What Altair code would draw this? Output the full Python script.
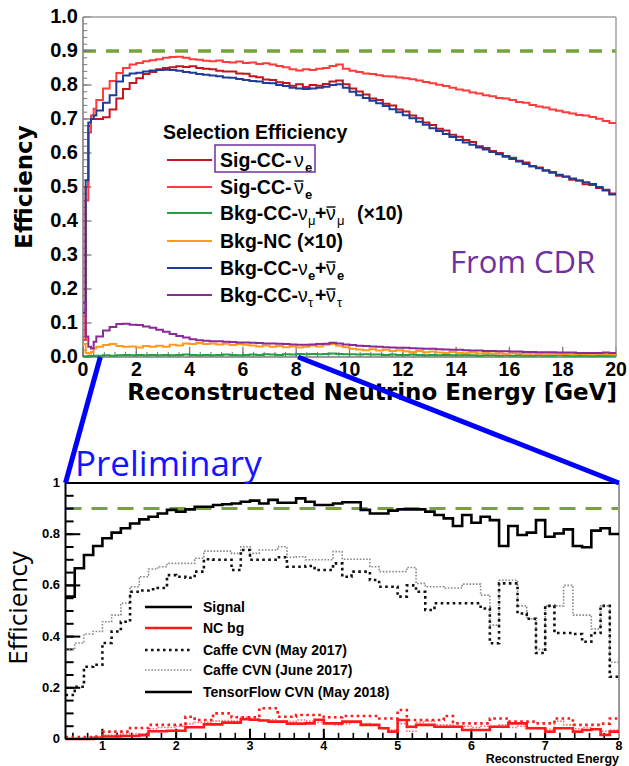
import altair as alt
import pandas as pd

W, H = 629, 766

# ---------------- top panel : selection efficiency (CDR) ----------------
top_edges_low = [0.0, 0.1, 0.2, 0.3, 0.4]          # fine bins at threshold
top_edges = top_edges_low + [round(0.5 + 0.25 * k, 3) for k in range(78)]
top_end = 20.0

sig_nue = [0.05, 0.50, 0.68, 0.70, 0.70,
    0.700, 0.705, 0.728, 0.760, 0.788, 0.806, 0.820, 0.832, 0.838, 0.846,
    0.850, 0.852, 0.855, 0.853, 0.855, 0.850, 0.848, 0.846, 0.842, 0.840,
    0.840, 0.834, 0.833, 0.826, 0.823, 0.816, 0.815, 0.808, 0.806, 0.798,
    0.802, 0.794, 0.800, 0.798, 0.803, 0.810, 0.813, 0.802, 0.790, 0.781,
    0.772, 0.760, 0.756, 0.745, 0.740, 0.728, 0.722, 0.710, 0.702, 0.690,
    0.682, 0.671, 0.666, 0.654, 0.648, 0.638, 0.632, 0.620, 0.615, 0.606,
    0.600, 0.591, 0.586, 0.577, 0.572, 0.560, 0.557, 0.548, 0.544, 0.533,
    0.531, 0.521, 0.519, 0.508, 0.506, 0.497, 0.492, 0.481]
sig_nuebar = [0.05, 0.46, 0.66, 0.71, 0.73,
    0.756, 0.790, 0.812, 0.835, 0.850, 0.860, 0.865, 0.870, 0.873, 0.876,
    0.880, 0.882, 0.883, 0.880, 0.876, 0.874, 0.871, 0.870, 0.872, 0.868,
    0.866, 0.869, 0.865, 0.866, 0.862, 0.864, 0.860, 0.856, 0.852, 0.846,
    0.843, 0.846, 0.844, 0.848, 0.850, 0.856, 0.860, 0.848, 0.842, 0.838,
    0.834, 0.832, 0.829, 0.826, 0.825, 0.822, 0.820, 0.817, 0.813, 0.809,
    0.805, 0.801, 0.797, 0.792, 0.787, 0.784, 0.778, 0.775, 0.770, 0.767,
    0.762, 0.760, 0.756, 0.750, 0.748, 0.741, 0.737, 0.734, 0.728, 0.724,
    0.720, 0.716, 0.712, 0.710, 0.706, 0.701, 0.694, 0.688]
bkg_numu_x10 = [0.002, 0.002, 0.003, 0.003, 0.004,
    0.004, 0.005, 0.004, 0.005, 0.006, 0.005, 0.006, 0.005, 0.006, 0.005,
    0.006, 0.005, 0.006, 0.007, 0.006, 0.005, 0.006, 0.005, 0.006, 0.007,
    0.006, 0.005, 0.006, 0.007, 0.006, 0.008, 0.007, 0.006, 0.008, 0.007,
    0.009, 0.008, 0.009, 0.008, 0.009, 0.010, 0.009, 0.008, 0.008, 0.007,
    0.008, 0.007, 0.007, 0.006, 0.007, 0.006, 0.006, 0.007, 0.006, 0.005,
    0.006, 0.005, 0.006, 0.005, 0.005, 0.006, 0.005, 0.004, 0.005, 0.005,
    0.004, 0.005, 0.004, 0.005, 0.004, 0.004, 0.005, 0.004, 0.004, 0.005,
    0.004, 0.003, 0.004, 0.004, 0.003, 0.004, 0.003, 0.004]
bkg_nc_x10 = [0.038, 0.012, 0.010, 0.015, 0.025,
    0.030, 0.035, 0.038, 0.032, 0.030, 0.031, 0.028, 0.032, 0.030, 0.033,
    0.030, 0.036, 0.034, 0.040, 0.038, 0.041, 0.038, 0.040, 0.037, 0.039,
    0.035, 0.038, 0.036, 0.034, 0.031, 0.034, 0.030, 0.032, 0.029, 0.031,
    0.028, 0.030, 0.034, 0.031, 0.036, 0.038, 0.033, 0.029, 0.024, 0.022,
    0.020, 0.023, 0.019, 0.021, 0.018, 0.020, 0.017, 0.015, 0.018, 0.014,
    0.016, 0.013, 0.012, 0.015, 0.012, 0.011, 0.013, 0.010, 0.012, 0.010,
    0.011, 0.009, 0.011, 0.010, 0.008, 0.010, 0.009, 0.008, 0.010, 0.008,
    0.009, 0.007, 0.009, 0.008, 0.007, 0.009, 0.008, 0.007]
bkg_nue = [0.13, 0.52, 0.69, 0.70, 0.71,
    0.725, 0.748, 0.770, 0.810, 0.828, 0.834, 0.836, 0.840, 0.843, 0.844,
    0.845, 0.844, 0.842, 0.838, 0.836, 0.832, 0.830, 0.828, 0.826, 0.822,
    0.821, 0.818, 0.815, 0.812, 0.810, 0.806, 0.805, 0.800, 0.797, 0.792,
    0.790, 0.788, 0.790, 0.792, 0.795, 0.800, 0.802, 0.792, 0.780, 0.770,
    0.762, 0.754, 0.746, 0.738, 0.729, 0.720, 0.711, 0.702, 0.692, 0.683,
    0.673, 0.665, 0.656, 0.647, 0.638, 0.631, 0.624, 0.616, 0.610, 0.603,
    0.596, 0.589, 0.582, 0.575, 0.568, 0.562, 0.555, 0.549, 0.542, 0.536,
    0.530, 0.525, 0.519, 0.514, 0.509, 0.500, 0.490, 0.478]
bkg_nutau = [0.16, 0.06, 0.03, 0.025, 0.045,
    0.060, 0.078, 0.088, 0.097, 0.098, 0.095, 0.094, 0.090, 0.086, 0.080,
    0.074, 0.068, 0.062, 0.057, 0.052, 0.049, 0.048, 0.046, 0.046, 0.045,
    0.044, 0.043, 0.043, 0.042, 0.041, 0.040, 0.040, 0.039, 0.038, 0.037,
    0.036, 0.036, 0.037, 0.038, 0.039, 0.042, 0.040, 0.037, 0.035, 0.033,
    0.032, 0.031, 0.030, 0.029, 0.028, 0.027, 0.027, 0.026, 0.025, 0.024,
    0.024, 0.023, 0.022, 0.021, 0.021, 0.020, 0.019, 0.019, 0.018, 0.018,
    0.017, 0.017, 0.016, 0.016, 0.015, 0.015, 0.014, 0.014, 0.014, 0.013,
    0.013, 0.013, 0.012, 0.012, 0.012, 0.012, 0.013, 0.012]

top_series = [  # values, colour (legend order)
    (sig_nue, "#c4161f"),
    (sig_nuebar, "#ff3c3c"),
    (bkg_numu_x10, "#22a045"),
    (bkg_nc_x10, "#ff9a1f"),
    (bkg_nue, "#1f3c98"),
    (bkg_nutau, "#8c2a97"),
]
top_goal = 0.9
top_xticks = list(range(0, 21, 2))
top_yticks = [0.0, 0.1, 0.2, 0.3, 0.4, 0.5, 0.6, 0.7, 0.8, 0.9, 1.0]

# ---------------- bottom panel : preliminary CVN comparison ----------------
bot_edges = [0.5 + 0.125 * k for k in range(60)]
bot_end = 8.0

tf_signal = [0.556, 0.667, 0.719, 0.754, 0.784, 0.806, 0.823, 0.842, 0.858, 0.868,
             0.881, 0.895, 0.888, 0.897, 0.907, 0.907, 0.914, 0.917, 0.920, 0.927,
             0.931, 0.920, 0.934, 0.923, 0.923, 0.940, 0.927, 0.914, 0.914, 0.920,
             0.925, 0.925, 0.895, 0.881, 0.881, 0.892, 0.897, 0.897, 0.897, 0.888,
             0.875, 0.862, 0.832, 0.875, 0.845, 0.868, 0.855, 0.754, 0.832, 0.797,
             0.806, 0.855, 0.790, 0.803, 0.819, 0.754, 0.749, 0.814, 0.823, 0.801]
caffe_may_signal = [0.172, 0.204, 0.282, 0.290, 0.375, 0.420, 0.458, 0.575, 0.580, 0.585,
                    0.590, 0.640, 0.634, 0.630, 0.654, 0.702, 0.700, 0.700, 0.660, 0.738,
                    0.700, 0.700, 0.700, 0.710, 0.673, 0.673, 0.676, 0.660, 0.660, 0.686,
                    0.634, 0.654, 0.654, 0.621, 0.595, 0.595, 0.556, 0.600, 0.575, 0.504,
                    0.530, 0.530, 0.530, 0.530, 0.530, 0.510, 0.374, 0.608, 0.608, 0.490,
                    0.470, 0.336, 0.520, 0.414, 0.414, 0.410, 0.380, 0.414, 0.520, 0.243]
caffe_june_signal = [0.350, 0.375, 0.410, 0.420, 0.458, 0.484, 0.530, 0.595, 0.634, 0.664,
                     0.673, 0.686, 0.686, 0.686, 0.706, 0.734, 0.734, 0.734, 0.725, 0.751,
                     0.725, 0.738, 0.738, 0.751, 0.710, 0.712, 0.700, 0.700, 0.700, 0.732,
                     0.702, 0.702, 0.702, 0.673, 0.654, 0.654, 0.654, 0.670, 0.608, 0.595,
                     0.595, 0.590, 0.590, 0.605, 0.605, 0.562, 0.445, 0.620, 0.620, 0.520,
                     0.470, 0.350, 0.520, 0.520, 0.600, 0.484, 0.484, 0.430, 0.520, 0.300]
tf_nc = [0.000, 0.000, 0.000, 0.005, 0.010, 0.010, 0.012, 0.012, 0.015, 0.030,
         0.030, 0.032, 0.032, 0.046, 0.046, 0.057, 0.057, 0.064, 0.064, 0.077,
         0.075, 0.072, 0.068, 0.068, 0.060, 0.060, 0.061, 0.075, 0.061, 0.061,
         0.068, 0.068, 0.055, 0.055, 0.042, 0.029, 0.074, 0.048, 0.055, 0.055,
         0.048, 0.048, 0.048, 0.035, 0.035, 0.035, 0.048, 0.048, 0.061, 0.061,
         0.042, 0.042, 0.029, 0.042, 0.042, 0.029, 0.035, 0.038, 0.016, 0.029]
caffe_may_nc = [0.008, 0.008, 0.008, 0.010, 0.029, 0.029, 0.029, 0.043, 0.043, 0.055,
                0.055, 0.055, 0.055, 0.087, 0.074, 0.074, 0.100, 0.100, 0.085, 0.085,
                0.085, 0.120, 0.120, 0.087, 0.087, 0.094, 0.094, 0.094, 0.085, 0.085,
                0.090, 0.090, 0.090, 0.090, 0.080, 0.080, 0.113, 0.074, 0.074, 0.074,
                0.074, 0.090, 0.061, 0.061, 0.061, 0.061, 0.080, 0.080, 0.068, 0.068,
                0.068, 0.061, 0.061, 0.080, 0.080, 0.055, 0.055, 0.055, 0.060, 0.080]
caffe_june_nc = [0.005, 0.005, 0.005, 0.008, 0.015, 0.015, 0.020, 0.020, 0.020, 0.040,
                 0.045, 0.045, 0.050, 0.060, 0.065, 0.065, 0.070, 0.072, 0.070, 0.085,
                 0.080, 0.075, 0.075, 0.070, 0.068, 0.074, 0.070, 0.065, 0.060, 0.055,
                 0.060, 0.065, 0.060, 0.055, 0.042, 0.035, 0.060, 0.030, 0.065, 0.070,
                 0.055, 0.055, 0.050, 0.050, 0.045, 0.050, 0.050, 0.055, 0.045, 0.050,
                 0.045, 0.040, 0.038, 0.070, 0.055, 0.040, 0.045, 0.038, 0.030, 0.035]

# style per curve: colour, width, dash
bot_series = [
    (caffe_june_signal, "#8a8a8a", 1.6, [1.6, 1.6]),
    (caffe_may_signal, "#111111", 2.6, [2.6, 3.4]),
    (caffe_june_nc, "#ff7070", 1.6, [1.6, 1.6]),
    (caffe_may_nc, "#ff1a1a", 2.6, [2.6, 3.4]),
    (tf_nc, "#ff1a1a", 2.6, None),
    (tf_signal, "#000000", 2.6, None),
]
bot_goal = 0.9
bot_xticks = [1, 2, 3, 4, 5, 6, 7, 8]
bot_yticks = [0, 0.2, 0.4, 0.6, 0.8, 1.0]
bot_ylabels = ["0", "0.2", "0.4", "0.6", "0.8", "1"]

# ---------------- layout (pixels) ----------------
TX, TY = [83, 616], [357, 17]
BX, BY = [65.5, 619], [739, 483]

XT = alt.Scale(domain=[0, 20], range=TX, nice=False, zero=False)
YT = alt.Scale(domain=[0, 1], range=TY, nice=False, zero=False)
XB = alt.Scale(domain=[0.5, 8], range=BX, nice=False, zero=False)
YB = alt.Scale(domain=[0, 1], range=BY, nice=False, zero=False)

ROOT = "Liberation Sans"
SLIDE = "Open Sans"


def steps(edges, vals, end):
    return pd.DataFrame({"E": list(edges) + [end], "eff": list(vals) + [vals[-1]]})


def segs(rows, xs, ys, color, width, dash=None):
    df = pd.DataFrame(rows, columns=["x", "x2", "y", "y2"])
    kw = dict(color=color, strokeWidth=width)
    if dash:
        kw["strokeDash"] = dash
    return alt.Chart(df).mark_rule(**kw).encode(
        x=alt.X("x:Q", scale=xs, axis=None), x2="x2:Q",
        y=alt.Y("y:Q", scale=ys, axis=None), y2="y2:Q")


def xlabels(vals, labels, xs, ypix, size):
    df = pd.DataFrame({"v": vals, "t": labels})
    return alt.Chart(df).mark_text(font=ROOT, fontSize=size, fontWeight="bold",
                                   color="black", align="center",
                                   baseline="alphabetic").encode(
        x=alt.X("v:Q", scale=xs, axis=None), y=alt.value(ypix), text="t:N")


def ylabels(vals, labels, ys, xpix, size):
    df = pd.DataFrame({"v": vals, "t": labels})
    return alt.Chart(df).mark_text(font=ROOT, fontSize=size, fontWeight="bold",
                                   color="black", align="right",
                                   baseline="middle").encode(
        y=alt.Y("v:Q", scale=ys, axis=None), x=alt.value(xpix), text="t:N")


def txt(rows, font, size, weight, color, align="left", angle=0):
    df = pd.DataFrame(rows, columns=["t", "x", "y"])
    return alt.Chart(df).mark_text(font=font, fontSize=size, fontWeight=weight,
                                   color=color, align=align, baseline="alphabetic",
                                   angle=angle).encode(
        x=alt.X("x:Q", scale=None, axis=None), y=alt.Y("y:Q", scale=None, axis=None),
        text="t:N")


def pxl(rows, color, width, dash=None):
    return segs(rows, None, None, color, width, dash)


# ---- top layers ----
top_layers = []
for vals, col in top_series:
    top_layers.append(
        alt.Chart(steps(top_edges, vals, top_end)).mark_line(
            interpolate="step-after", color=col, strokeWidth=2).encode(
            x=alt.X("E:Q", scale=XT, axis=None),
            y=alt.Y("eff:Q", scale=YT, axis=None)))

AXC = "#7a7a7a"
top_frame = segs([(0, 0, 0, 1), (0, 20, 0, 0)], XT, YT, AXC, 1.5)
top_box = segs([(0, 20, 1, 1), (20, 20, 0, 1)], XT, YT, "#a0a0a0", 1.5)
ty_minor = [round(0.02 * k, 2) for k in range(51)]
tx_minor = [round(0.4 * k, 2) for k in range(51)]
top_ticks = [
    segs([(0, 0.32, v, v) for v in top_yticks], XT, YT, AXC, 1.3),
    segs([(0, 0.16, v, v) for v in ty_minor], XT, YT, AXC, 1.0),
    segs([(v, v, 0, 0.03) for v in top_xticks], XT, YT, AXC, 1.3),
    segs([(v, v, 0, 0.015) for v in tx_minor], XT, YT, AXC, 1.0),
]
top_goal_line = segs([(0, 20, top_goal, top_goal)], XT, YT, "#76a33a", 3.5, [13, 10])
top_labels = [
    xlabels(top_xticks, [str(v) for v in top_xticks], XT, 376, 19.5),
    ylabels(top_yticks, [f"{v:.1f}" for v in top_yticks], YT, 78, 20),
]

# zoom connectors: from the top-panel energy axis to the corners of the lower panel
zoom_lo, zoom_hi = 0.65, 8.07
conn = []
for e, px in [(zoom_lo, BX[0]), (zoom_hi, BX[1])]:
    conn.append(alt.Chart(pd.DataFrame({"E": [e], "eff": [0.0]})).mark_rule(
        color="#0000ff", strokeWidth=5).encode(
        x=alt.X("E:Q", scale=XT, axis=None), y=alt.Y("eff:Q", scale=YT, axis=None),
        x2=alt.value(px), y2=alt.value(BY[1])))

TOP = alt.layer(top_goal_line, *top_ticks, top_frame, top_box, *top_layers,
                *top_labels)

# ---- bottom layers ----
bot_layers = []
for vals, col, wd, dash in bot_series:
    kw = dict(interpolate="step-after", color=col, strokeWidth=wd)
    if dash:
        kw["strokeDash"] = dash
    bot_layers.append(
        alt.Chart(steps(bot_edges, vals, bot_end)).mark_line(**kw).encode(
            x=alt.X("E:Q", scale=XB, axis=None),
            y=alt.Y("eff:Q", scale=YB, axis=None)))

by_minor = [round(0.05 * k, 2) for k in range(21)]
bx_minor = [round(0.6 + 0.2 * k, 2) for k in range(38)]
bot_ticks = [
    segs([(0.5, 0.61, v, v) for v in by_minor], XB, YB, "black", 2),
    segs([(0.5, 0.70, v, v) for v in bot_yticks], XB, YB, "black", 2),
    segs([(v, v, 0, 0.024) for v in bx_minor], XB, YB, "black", 1.6),
    segs([(v, v, 0, 0.04) for v in bot_xticks], XB, YB, "black", 2),
]
bot_frame = segs([(0.5, 0.5, 0, 1), (0.5, 8, 0, 0), (0.5, 8, 1, 1)], XB, YB, "black", 2)
bot_right = segs([(8, 8, 0, 1)], XB, YB, "#9a9a9a", 2)
bot_goal_line = segs([(0.5, 8, bot_goal, bot_goal)], XB, YB, "#78a23c", 3, [16, 10])
bot_labels = [
    xlabels(bot_xticks, [str(v) for v in bot_xticks], XB, 750, 12.5),
    ylabels(bot_yticks, bot_ylabels, YB, 60, 13),
]

BOT = alt.layer(bot_goal_line, *bot_ticks, bot_right, *bot_layers, bot_frame, *bot_labels)

# ---- annotations (pixel positions) ----
titles = [
    txt([("Reconstructed Neutrino Energy [GeV]", 617, 400)], "DejaVu Sans", 23, "bold", "black", "right"),
    txt([("Efficiency", 32, (TY[0] + TY[1]) / 2)], "DejaVu Sans", 23, "bold", "black", "center", 270),
    txt([("Reconstructed Energy", 619, 763)], ROOT, 12.5, "bold", "black", "right"),
    txt([("Efficiency", 27, 608)], SLIDE, 26, "normal", "black", "center", 270),
]

ry = [160, 187, 213, 241, 268, 295]   # legend rows (top)
LX0, LX1, TXT = 167, 212, 220
leg_top = [txt([("Selection Efficiency", 163, 139)], ROOT, 19.5, "bold", "black")]
for y, (_, col) in zip(ry, top_series):
    leg_top.append(pxl([(LX0, LX1, y, y)], col, 2))
main = [("Sig-CC-", TXT, ry[0]), ("Sig-CC-", TXT, ry[1]),
        ("Bkg-CC-", TXT, ry[2]), ("+", 315, ry[2]), ("(×10)", 357, ry[2]),
        ("Bkg-NC (×10)", TXT, ry[3]),
        ("Bkg-CC-", TXT, ry[4]), ("+", 315, ry[4]),
        ("Bkg-CC-", TXT, ry[5]), ("+", 315, ry[5])]
greek = [("ν", 294, ry[0]), ("ν", 294, ry[1]),
         ("ν", 298, ry[2]), ("ν", 326, ry[2]),
         ("ν", 298, ry[4]), ("ν", 326, ry[4]),
         ("ν", 298, ry[5]), ("ν", 326, ry[5])]
bars = [(294, ry[1]), (326, ry[2]), (326, ry[4]), (326, ry[5])]   # antineutrino bars
subs_b = [("e", 305, ry[0]), ("e", 305, ry[1]), ("e", 308, ry[4]), ("e", 337, ry[4])]
subs_r = [("μ", 308, ry[2]), ("μ", 337, ry[2]), ("τ", 308, ry[5]), ("τ", 337, ry[5])]
leg_top += [
    txt([(t, x, y + 7) for t, x, y in main], ROOT, 19.5, "bold", "black"),
    txt([(t, x, y + 7) for t, x, y in greek], ROOT, 19.5, "normal", "black"),
    txt([(t, x, y + 12) for t, x, y in subs_b], ROOT, 13, "bold", "black"),
    txt([(t, x, y + 12) for t, x, y in subs_r], ROOT, 13, "normal", "black"),
    pxl([(x + 0.5, x + 9.5, y - 6, y - 6) for x, y in bars], "black", 1.4),
]
box = alt.Chart(pd.DataFrame({"x": [215], "x2": [315], "y": [145], "y2": [172]})).mark_rect(
    fillOpacity=0, stroke="#7030a0", strokeWidth=1.5).encode(
    x=alt.X("x:Q", scale=None, axis=None), x2="x2:Q",
    y=alt.Y("y:Q", scale=None, axis=None), y2="y2:Q")

by = [607, 628, 650, 670, 692]       # legend rows (bottom)
leg_bot = [
    pxl([(145, 192, by[0], by[0])], "black", 2.6),
    pxl([(145, 192, by[1], by[1])], "#ff1a1a", 2.6),
    pxl([(145, 192, by[2], by[2])], "#111111", 2.6, [2.6, 3.4]),
    pxl([(145, 192, by[3], by[3])], "#8a8a8a", 1.6, [1.6, 1.6]),
    pxl([(145, 192, by[4], by[4])], "black", 2.6),
    txt([("Signal", 203, by[0] + 5), ("NC bg", 203, by[1] + 5),
         ("Caffe CVN (May 2017)", 203, by[2] + 5),
         ("Caffe CVN (June 2017)", 203, by[3] + 5),
         ("TensorFlow CVN (May 2018)", 203, by[4] + 5)], ROOT, 14, "bold", "black"),
]
notes = [
    txt([("From CDR", 450, 273)], SLIDE, 31, "normal", "#7030a0"),
    txt([("Preliminary", 75, 476)], SLIDE, 35, "normal", "#1414ff"),
]

ANN = alt.layer(*titles, *leg_top, box, *leg_bot, *notes)
CONN = alt.layer(*conn)

chart = alt.layer(TOP, BOT, ANN, CONN).resolve_scale(
    x="independent", y="independent").properties(
    width=W, height=H, autosize=alt.AutoSizeParams(type="none"), padding=0,
    background="white").configure_view(stroke=None)

chart.save("out.html", embed_options={"renderer": "svg", "actions": False})
